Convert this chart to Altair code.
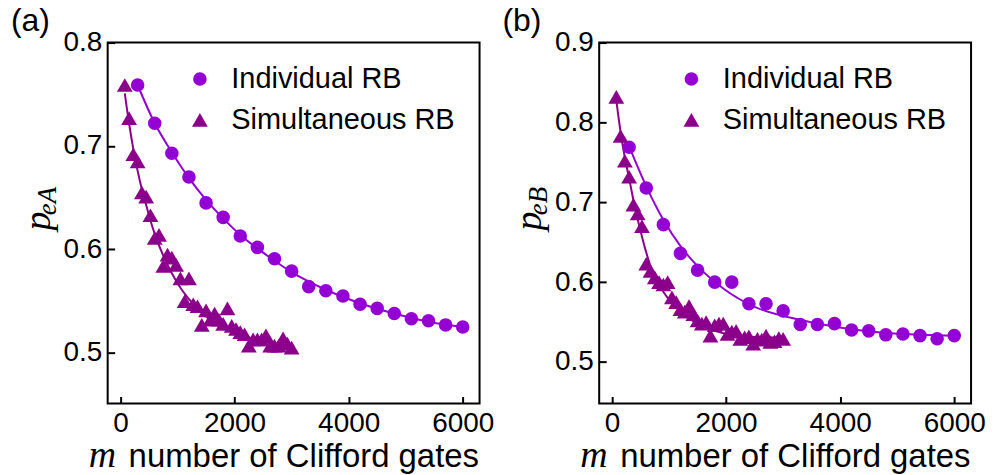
import altair as alt
import pandas as pd

# ---------------- data ----------------
SERIES = ["Individual RB", "Simultaneous RB"]

m_ind = [300, 600, 900, 1200, 1500, 1800, 2100, 2400, 2700, 3000,
         3300, 3600, 3900, 4200, 4500, 4800, 5100, 5400, 5700, 6000]
m_sim = [75, 150, 225, 300, 375, 450, 525, 600, 675, 750,
         825, 900, 975, 1050, 1125, 1200, 1275, 1350, 1425, 1500,
         1575, 1650, 1725, 1800, 1875, 1950, 2025, 2100, 2175, 2250,
         2325, 2400, 2475, 2550, 2625, 2700, 2775, 2850, 2925, 3000]

# panel (a)
a_ind = [0.759, 0.722, 0.693, 0.670, 0.645, 0.631, 0.613, 0.602, 0.591, 0.579,
         0.564, 0.560, 0.555, 0.547, 0.543, 0.538, 0.533, 0.531, 0.527, 0.525]
a_sim = [0.759, 0.727, 0.692, 0.685, 0.655, 0.651, 0.633, 0.611, 0.614, 0.584,
         0.595, 0.592, 0.585, 0.572, 0.550, 0.572, 0.547, 0.545, 0.527, 0.541,
         0.532, 0.538, 0.532, 0.528, 0.543, 0.526, 0.523, 0.520, 0.518, 0.507,
         0.513, 0.513, 0.513, 0.517, 0.507, 0.507, 0.507, 0.514, 0.509, 0.505]
a_ind_fit_m = [300, 600, 900, 1200, 1500, 1800, 2100, 2400, 2700, 3000, 3600, 4200, 4800, 5400, 6000]
a_ind_fit = [0.759, 0.722, 0.694, 0.669, 0.648, 0.630, 0.614, 0.601, 0.589, 0.578, 0.561, 0.548, 0.538, 0.530, 0.525]
a_sim_fit_m = [75, 150, 225, 300, 375, 450, 525, 600, 750, 900, 1050, 1200, 1400, 1600, 1800, 2000, 2300, 2600, 3000]
a_sim_fit = [0.751, 0.722, 0.697, 0.676, 0.658, 0.643, 0.628, 0.615, 0.594, 0.577, 0.563, 0.552, 0.540, 0.531, 0.525, 0.520, 0.514, 0.510, 0.507]

# panel (b)
b_ind = [0.769, 0.718, 0.672, 0.636, 0.615, 0.600, 0.600, 0.573, 0.573, 0.564,
         0.547, 0.547, 0.548, 0.540, 0.539, 0.534, 0.535, 0.533, 0.529, 0.533]
b_sim = [0.832, 0.783, 0.752, 0.732, 0.697, 0.686, 0.670, 0.623, 0.614, 0.606,
         0.600, 0.597, 0.600, 0.581, 0.575, 0.566, 0.563, 0.570, 0.560, 0.552,
         0.548, 0.550, 0.533, 0.546, 0.548, 0.548, 0.535, 0.538, 0.539, 0.529,
         0.531, 0.532, 0.523, 0.529, 0.528, 0.533, 0.525, 0.526, 0.530, 0.529]
b_ind_fit_m = [300, 600, 900, 1200, 1500, 1950, 2500, 3100, 3700, 4300, 4850, 5450, 6000]
b_ind_fit = [0.770, 0.720, 0.678, 0.645, 0.620, 0.592, 0.569, 0.556, 0.547, 0.540, 0.536, 0.534, 0.533]
b_sim_fit_m = [75, 150, 225, 300, 400, 500, 600, 700, 900, 1200, 1500, 1800, 2100, 2400, 2700, 3000]
b_sim_fit = [0.828, 0.788, 0.756, 0.730, 0.694, 0.664, 0.637, 0.615, 0.588, 0.563, 0.548, 0.539, 0.534, 0.532, 0.531, 0.530]

x_ticks = [0, 2000, 4000, 6000]
a_yticks = [0.5, 0.6, 0.7, 0.8]
b_yticks = [0.5, 0.6, 0.7, 0.8, 0.9]

# ---------------- styling ----------------
SANS = "Liberation Sans"
SERIF = "Liberation Serif"
C_IND = "#9400d3"
C_SIM = "#8b008b"
W, H = 373, 362
XDOM = [-225, 6295]


def txt(s, x, y, size, font, style="normal", angle=0, align="left"):
    return alt.Chart(pd.DataFrame({"t": [s]})).mark_text(
        font=font, fontSize=size, fontStyle=style, angle=angle,
        align=align, baseline="alphabetic", color="black"
    ).encode(text="t:N", x=alt.value(x), y=alt.value(y))


def panel(tag, sub, ind, sim, ind_fit_m, ind_fit, sim_fit_m, sim_fit, ydom, yvals):
    pts = pd.DataFrame({
        "m": m_ind + m_sim,
        "p": ind + sim,
        "series": [SERIES[0]] * len(m_ind) + [SERIES[1]] * len(m_sim),
    })
    xs = alt.Scale(domain=XDOM, nice=False, zero=False)
    ys = alt.Scale(domain=ydom, nice=False, zero=False)

    lab = dict(labelFontSize=28, labelFont=SANS, labelColor="black", labelPadding=6,
               labelFlush=False, labelOverlap=False, labelBound=False,
               ticks=False, domain=False, grid=False, title=None)
    main_x = alt.Axis(values=x_ticks, format="d", orient="bottom", **lab)
    main_y = alt.Axis(values=yvals, format=".1f", orient="left", **lab)
    tk = dict(labels=False, ticks=True, tickSize=7, tickWidth=2, tickColor="black",
              domain=False, grid=False, offset=-7, title=None)
    tick_x = alt.Axis(values=x_ticks, orient="bottom", **tk)
    tick_y = alt.Axis(values=yvals, orient="left", **tk)

    fit_ind = alt.Chart(pd.DataFrame({"m": ind_fit_m, "p": ind_fit})).mark_line(
        color=C_IND, strokeWidth=2, interpolate="monotone"
    ).encode(x=alt.X("m:Q", scale=xs, axis=tick_x), y=alt.Y("p:Q", scale=ys, axis=tick_y))
    fit_sim = alt.Chart(pd.DataFrame({"m": sim_fit_m, "p": sim_fit})).mark_line(
        color=C_SIM, strokeWidth=2, interpolate="monotone"
    ).encode(x=alt.X("m:Q", scale=xs, axis=None), y=alt.Y("p:Q", scale=ys, axis=None))

    leg = alt.Legend(title=None, orient="none", legendX=78, legendY=22,
                     labelFontSize=29, labelFont=SANS, labelColor="black", labelLimit=0,
                     rowPadding=11, labelOffset=17, padding=0,
                     symbolStrokeWidth=0, symbolOpacity=1)
    points = alt.Chart(pts).mark_point(filled=True, opacity=1).encode(
        x=alt.X("m:Q", scale=xs, axis=main_x),
        y=alt.Y("p:Q", scale=ys, axis=main_y),
        color=alt.Color("series:N", scale=alt.Scale(domain=SERIES, range=[C_IND, C_SIM]), legend=leg),
        shape=alt.Shape("series:N", scale=alt.Scale(domain=SERIES, range=["circle", "triangle-up"]), legend=leg),
        size=alt.Size("series:N", scale=alt.Scale(domain=SERIES, range=[185, 250]), legend=leg),
    )

    texts = [
        txt(tag, -97, -12, 32, SANS),
        txt("m", -19, 426, 38, SERIF, style="italic"),
        txt("number of Clifford gates", 21, 426, 33, SANS),
        txt("p", -58, 179, 38, SERIF, style="italic", angle=270, align="center"),
        txt(sub, -52, 159, 27, SERIF, style="italic", angle=270, align="center"),
    ]
    return alt.layer(fit_ind, fit_sim, points, *texts).resolve_axis(
        x="independent", y="independent"
    ).properties(width=W, height=H)


pa = panel("(a)", "eA", a_ind, a_sim, a_ind_fit_m, a_ind_fit, a_sim_fit_m, a_sim_fit, [0.451, 0.8], a_yticks)
pb = panel("(b)", "eB", b_ind, b_sim, b_ind_fit_m, b_ind_fit, b_sim_fit_m, b_sim_fit, [0.448, 0.9], b_yticks)

chart = alt.hconcat(pa, pb, spacing=120, bounds="flush").resolve_scale(
    x="independent", y="independent", color="independent", shape="independent", size="independent"
).resolve_legend(color="independent", shape="independent", size="independent").properties(
    padding={"left": 10, "top": 3, "right": 8, "bottom": 1}
).configure_view(stroke="black", strokeWidth=2)

chart.save("out.html", embed_options={"renderer": "svg", "actions": False})
